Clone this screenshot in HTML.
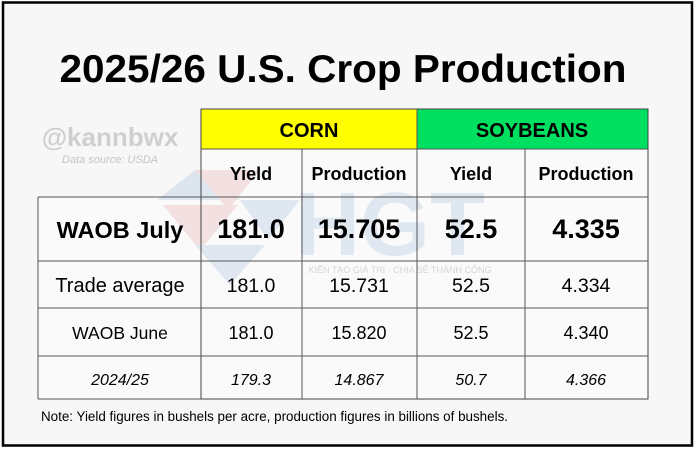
<!DOCTYPE html>
<html><head><meta charset="utf-8"><style>
html,body{margin:0;padding:0;background:#fff}
svg{display:block}
text{font-family:"Liberation Sans",Arial,sans-serif;fill:#000}
</style></head><body>
<svg width="696" height="450" viewBox="0 0 696 450" xmlns="http://www.w3.org/2000/svg">
<rect x="0" y="0" width="696" height="450" fill="#ffffff"/>
<rect x="3" y="2.5" width="689" height="443" fill="#f7f7f7" stroke="#000" stroke-width="2.5"/>
<text x="343" y="82" font-size="39" font-weight="bold" text-anchor="middle" textLength="567" lengthAdjust="spacingAndGlyphs">2025/26 U.S. Crop Production</text>
<text x="110" y="146" font-size="26" font-weight="bold" text-anchor="middle" style="fill:#cfcfcf">@kannbwx</text>
<text x="110" y="163" font-size="11" font-style="italic" text-anchor="middle" style="fill:#c4c4c4">Data source: USDA</text>
<rect x="201" y="109" width="216" height="40" fill="#ffff00"/>
<rect x="417" y="109" width="231" height="40" fill="#00e060"/>
<rect x="201" y="149" width="447" height="48" fill="#fafafa"/>
<rect x="38" y="197" width="610" height="202" fill="#fafafa"/>
<g opacity="0.28">
<polygon points="157,200 195,170 240,200" fill="#9db8dc"/>
<polygon points="195,170 260,170 228,210" fill="#e3a0a0"/>
<polygon points="240,200 300,200 268,240" fill="#9db8dc"/>
<polygon points="163,205 238,205 200,250" fill="#e3a0a0"/>
<polygon points="195,245 265,245 230,285" fill="#9db8dc"/>
<text x="390" y="255" font-size="90" font-weight="bold" text-anchor="middle" style="fill:#9db8dc">HGT</text>
</g>
<text x="400" y="273" font-size="9" text-anchor="middle" style="fill:#d5d5d5">KIẾN TẠO GIÁ TRỊ - CHIA SẺ THÀNH CÔNG</text>
<g stroke="#555" stroke-width="1" fill="none">
<rect x="201" y="109" width="447" height="290" stroke="#444"/>
<line x1="201" y1="149" x2="648" y2="149"/>
<line x1="38" y1="197" x2="648" y2="197"/>
<line x1="38" y1="197" x2="38" y2="399"/>
<line x1="38" y1="399" x2="201" y2="399"/>
<line x1="38" y1="261" x2="648" y2="261"/>
<line x1="38" y1="308" x2="648" y2="308"/>
<line x1="38" y1="356" x2="648" y2="356"/>
<line x1="417" y1="109" x2="417" y2="399"/>
<line x1="302" y1="149" x2="302" y2="399"/>
<line x1="525" y1="149" x2="525" y2="399"/>
</g>
<g text-anchor="middle">
<text x="309" y="137" font-size="20" font-weight="bold">CORN</text>
<text x="532" y="137" font-size="20" font-weight="bold">SOYBEANS</text>
<text x="251" y="180" font-size="18" font-weight="bold">Yield</text>
<text x="359" y="180" font-size="18" font-weight="bold">Production</text>
<text x="471" y="180" font-size="18" font-weight="bold">Yield</text>
<text x="586" y="180" font-size="18" font-weight="bold">Production</text>

<text x="120" y="238" font-size="23.5" font-weight="bold">WAOB July</text>
<text x="251" y="238" font-size="27" font-weight="bold">181.0</text>
<text x="359" y="238" font-size="27" font-weight="bold">15.705</text>
<text x="471" y="238" font-size="27" font-weight="bold">52.5</text>
<text x="586" y="238" font-size="27" font-weight="bold">4.335</text>

<text x="120" y="292" font-size="20">Trade average</text>
<text x="251" y="292" font-size="19.5">181.0</text>
<text x="359" y="292" font-size="19.5">15.731</text>
<text x="471" y="292" font-size="19.5">52.5</text>
<text x="586" y="292" font-size="19.5">4.334</text>

<text x="120" y="339" font-size="17.5">WAOB June</text>
<text x="251" y="339" font-size="18">181.0</text>
<text x="359" y="339" font-size="18">15.820</text>
<text x="471" y="339" font-size="18">52.5</text>
<text x="586" y="339" font-size="18">4.340</text>

<text x="120" y="385" font-size="16" font-style="italic">2024/25</text>
<text x="251" y="385" font-size="16" font-style="italic">179.3</text>
<text x="359" y="385" font-size="16" font-style="italic">14.867</text>
<text x="471" y="385" font-size="16" font-style="italic">50.7</text>
<text x="586" y="385" font-size="16" font-style="italic">4.366</text>
</g>
<text x="41" y="421" font-size="13.5" textLength="467" lengthAdjust="spacingAndGlyphs">Note: Yield figures in bushels per acre, production figures in billions of bushels.</text>
</svg>
</body></html>
